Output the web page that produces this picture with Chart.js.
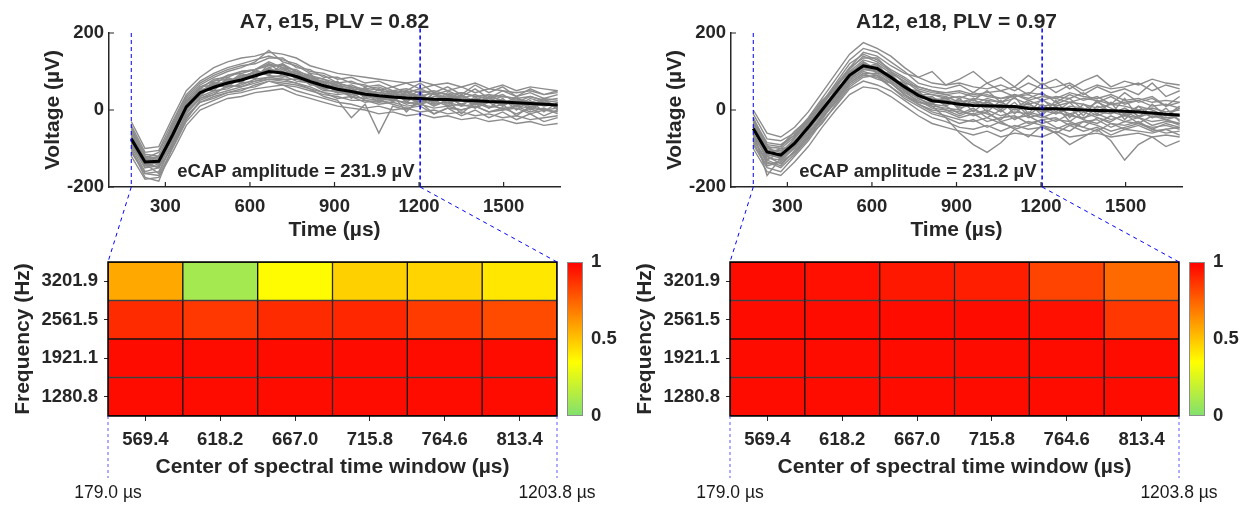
<!DOCTYPE html>
<html>
<head>
<meta charset="utf-8">
<script src="https://cdn.jsdelivr.net/npm/chart.js@4.4.1/dist/chart.umd.min.js"></script>
<style>
  html, body { margin: 0; padding: 0; background: #fff; }
  #wrap { position: relative; width: 1240px; height: 508px; overflow: hidden; }
  canvas { position: absolute; }
</style>
</head>
<body>
<div id="wrap">
  <canvas id="topA" width="618" height="250" style="left:0px;top:0px"></canvas>
  <canvas id="hmA" width="618" height="268" style="left:0px;top:240px"></canvas>
  <canvas id="topB" width="618" height="250" style="left:622px;top:0px"></canvas>
  <canvas id="hmB" width="618" height="268" style="left:622px;top:240px"></canvas>
  <canvas id="links" width="1240" height="508" style="left:0px;top:0px"></canvas>
</div>
<script>
var FONT = "'Liberation Sans', Arial, Helvetica, sans-serif";
var INK = '#262626';

// sample instants of the recorded traces (µs)
var timeUs = [179.0, 227.8, 276.6, 325.4, 374.2, 423.0, 471.8, 520.6,
  569.4, 618.2, 667.0, 715.8, 764.6, 813.4, 862.2, 911.0,
  959.8, 1008.6, 1057.4, 1106.2, 1155.0, 1203.8, 1252.6, 1301.4,
  1350.2, 1399.0, 1447.8, 1496.6, 1545.4, 1594.2, 1643.0, 1691.8];
var timeTicks = [300, 600, 900, 1200, 1500];
var voltTicks = [-200, 0, 200];
var windowEdges = [179.0, 1203.8];

var panelTitles = ['A7, e15, PLV = 0.82', 'A12, e18, PLV = 0.97'];
var ampLabels = ['eCAP amplitude = 231.9 µV', 'eCAP amplitude = 231.2 µV'];

// mean response (black) and single sweeps (grey), µV
var meanA7 = [-75, -135, -133, -65, 8, 45, 59, 70, 78, 89, 100, 96, 87, 74, 63, 54,
  48, 41, 37, 34, 31, 30, 28, 27, 25, 24, 22, 21, 19, 17, 15, 13];
var tracesA7 = [
  [-40, -110, -105, -30, 40, 75, 95, 110, 120, 130, 140, 130, 120, 100, 95, 80, 85, 70, 75, 60, 70, 55, 65, 50, 60, 45, 55, 50, 45, 50, 40, 45],
  [-110, -165, -170, -100, -30, 10, 25, 40, 45, 55, 60, 65, 50, 40, 30, 20, 15, 5, 10, 0, 5, -5, 0, -10, -5, -15, -10, -20, -15, -25, -20, -15],
  [-60, -120, -125, -50, 20, 55, 80, 85, 100, 105, 120, 110, 105, 85, 80, 60, 65, 50, 45, 40, 50, 35, 45, 40, 30, 40, 25, 35, 30, 20, 30, 25],
  [-90, -150, -145, -85, -10, 30, 45, 60, 65, 80, 85, 90, 75, 70, 50, 50, 35, 30, 25, 30, 15, 25, 15, 20, 10, 15, 10, 5, 10, 5, 0, 5],
  [-70, -130, -140, -60, 15, 50, 55, 80, 75, 95, 95, 105, 90, 80, 70, 45, 55, 35, 45, 25, 40, 20, 35, 30, 15, 30, 20, 25, 10, 20, 10, 15],
  [-80, -145, -125, -75, 5, 40, 70, 65, 90, 85, 110, 90, 95, 65, 65, 55, 40, 50, 30, 45, 25, 40, 20, 35, 30, 20, 30, 15, 25, 15, 20, 5],
  [-50, -115, -120, -45, 30, 65, 85, 100, 110, 125, 155, 125, 115, 95, 90, 70, 75, 60, 65, 50, 55, 45, 50, 40, 45, 35, 40, 35, 30, 35, 25, 30],
  [-95, -160, -150, -95, -20, 20, 30, 45, 50, 65, 75, 70, 65, 55, 35, 25, -20, 15, -60, 10, 0, 20, -10, 5, 0, 10, -5, 0, 5, -10, 0, -5],
  [-65, -125, -135, -55, 10, 45, 60, 75, 85, 90, 100, 100, 85, 75, 60, 60, 45, 40, 35, 35, 30, 30, 25, 25, 25, 20, 20, 20, 15, 15, 15, 10],
  [-85, -140, -150, -70, 0, 35, 50, 55, 70, 75, 85, 80, 80, 70, 55, 45, 50, 35, 30, 30, 35, 25, 30, 20, 25, 15, 20, 15, 20, 10, 15, 10],
  [-55, -125, -110, -40, 25, 60, 75, 90, 95, 105, 115, 115, 100, 90, 80, 70, 60, 55, 60, 45, 50, 70, 45, 60, 40, 65, 45, 60, 35, 55, 40, 50],
  [-100, -175, -185, -95, -25, 25, 40, 50, 60, 70, 80, 75, 70, 55, 45, 30, 35, 20, 25, 15, 5, 10, -10, 5, -15, 0, -20, -5, -25, -10, -30, -20],
  [-30, -100, -95, -20, 50, 85, 110, 125, 135, 140, 150, 145, 135, 115, 105, 95, 90, 85, 80, 75, 70, 75, 65, 70, 60, 70, 55, 65, 50, 60, 55, 50],
  [-120, -180, -175, -110, -40, 0, 15, 30, 35, 45, 50, 55, 40, 30, 20, 10, 5, 0, -10, -5, -15, -10, -20, -15, -25, -20, -30, -25, -35, -30, -40, -35],
  [-75, -140, -120, -70, 10, 40, 65, 60, 85, 100, 95, 110, 80, 85, 60, 65, 40, 55, 30, 50, 20, 45, 15, 40, 10, 35, 5, 30, 0, 25, -5, 20],
  [-60, -125, -145, -55, 0, 55, 50, 85, 70, 105, 90, 120, 80, 95, 55, 75, 30, 60, 25, 45, 35, 15, 45, 10, 40, 5, 35, 10, 30, 0, 25, 5],
  [-85, -150, -130, -80, 15, 35, 70, 70, 95, 80, 120, 95, 100, 70, 75, 50, 60, 30, 55, 20, 50, 10, 45, 15, 40, 20, 30, 10, 35, 5, 30, 0],
  [-45, -120, -130, -35, 35, 70, 90, 105, 115, 120, 135, 135, 110, 105, 85, 85, 70, 65, 50, 60, 45, 55, 40, 50, 35, 55, 30, 50, 35, 45, 30, 40],
  [-105, -165, -160, -90, -15, 20, 35, 45, 55, 60, 75, 65, 60, 50, 40, 35, 25, 25, 15, 20, 10, 15, 5, 10, 0, 10, -5, 5, -10, 5, -15, 0],
  [-70, -135, -150, -60, 5, 45, 60, 75, 85, 100, 90, 85, 95, 75, 55, 60, 35, 45, 20, 40, -5, 30, 10, 25, -10, 20, 5, 15, -15, 10, 0, -5],
  [-80, -125, -140, -75, 20, 50, 65, 70, 90, 95, 105, 100, 85, 90, 70, 45, 50, 45, 40, 25, 45, 35, 20, 45, 30, 15, 35, 25, 10, 30, 20, 5],
  [-55, -130, -120, -50, 25, 45, 75, 80, 80, 90, 110, 120, 100, 80, 75, 65, 55, 50, 55, 40, 35, 50, 40, 30, 45, 35, 30, 40, 20, 35, 25, 20],
  [-90, -140, -165, -85, -5, 30, 40, 65, 60, 75, 80, 80, 70, 60, 45, 40, 45, 25, 20, 25, 20, 15, 25, 10, 15, 5, 20, 0, 10, -5, 5, -10],
  [-65, -145, -135, -55, 10, 60, 65, 90, 100, 105, 125, 110, 95, 85, 70, 70, 60, 50, 45, 50, 40, 35, 45, 30, 35, 25, 40, 20, 30, 15, 25, 10]
];

var meanA12 = [-48, -109, -117, -87, -45, 0, 45, 90, 115, 108, 85, 60, 38, 24, 20, 15,
  12, 11, 10, 9, 4, 3, 3, 2, 0, -1, -2, -3, -5, -8, -11, -13];
var tracesA12 = [
  [-10, -75, -80, -60, -20, 30, 80, 130, 160, 150, 125, 100, 70, 60, 55, 65, 45, 70, 50, 60, 40, 70, 45, 65, 40, 60, 45, 55, 40, 70, 35, 50],
  [-90, -150, -160, -120, -80, -30, 10, 55, 75, 65, 50, 25, 0, -20, -30, -45, -50, -40, -55, -40, -50, -45, -60, -40, -55, -45, -65, -50, -55, -60, -50, -65],
  [-40, -100, -110, -75, -35, 15, 60, 100, 130, 120, 95, 75, 50, 40, 35, 20, 30, 25, 20, 30, 15, 25, 10, 20, 15, 5, 15, 10, 0, 5, -5, 0],
  [-60, -125, -130, -100, -60, -15, 30, 75, 100, 90, 70, 45, 25, 5, 0, -5, -10, 0, -15, -5, -10, -20, -5, -15, -20, -10, -25, -15, -20, -30, -25, -35],
  [-30, -95, -100, -70, -30, 10, 60, 105, 140, 125, 100, 80, 55, 45, 40, 30, 45, 35, 30, 40, 25, 35, 30, 20, 30, 25, 15, 20, 25, 10, 15, 5],
  [-70, -140, -135, -95, -55, -5, 35, 80, 105, 100, 75, 50, 30, 15, 10, -10, 5, -20, 0, -25, -5, -15, -30, -10, -25, -35, -15, -30, -20, -40, -30, -35],
  [-55, -170, -125, -90, -50, -10, 40, 85, 110, 100, 80, 55, 30, 10, -20, -60, -90, -110, -85, -50, -70, -40, -60, -90, -70, -50, -80, -130, -90, -70, -95, -80],
  [-20, -90, -95, -55, -25, 20, 65, 110, 150, 140, 115, 95, 85, 100, 65, 80, 100, 70, 85, 60, 90, 65, 80, 55, 75, 90, 60, 75, 65, 80, 70, 65],
  [-50, -110, -120, -90, -40, 5, 50, 95, 120, 110, 90, 60, 40, 30, 25, 10, 20, 5, 15, 0, 10, -5, 5, -10, 0, -5, -10, 5, -15, -10, -20, -15],
  [-80, -130, -145, -105, -65, -20, 20, 65, 90, 85, 60, 35, 15, 0, -5, -20, -10, -30, -20, -15, -35, -25, -20, -40, -30, -25, -45, -30, -35, -45, -40, -50],
  [-25, -85, -90, -65, -25, 20, 70, 120, 145, 130, 105, 85, 60, 50, 45, 50, 40, 45, 50, 35, 45, 40, 30, 45, 35, 30, 40, 25, 30, 20, 25, 20],
  [-65, -120, -140, -110, -70, -25, 25, 70, 95, 95, 70, 40, 20, 10, 5, 0, -15, -5, -30, -20, -15, -35, -25, -30, -45, -20, -35, -40, -30, -50, -35, -45],
  [0, -60, -70, -45, -5, 45, 95, 145, 175, 160, 140, 110, 85, 70, 65, 70, 60, 55, 65, 50, 70, 55, 60, 70, 50, 65, 55, 60, 70, 50, 65, 55],
  [-100, -160, -170, -135, -95, -45, 0, 40, 60, 55, 35, 10, -15, -35, -45, -55, -65, -55, -70, -60, -65, -70, -55, -70, -65, -60, -70, -65, -60, -70, -65, -70],
  [-45, -115, -100, -95, -35, -5, 55, 85, 125, 100, 95, 55, 50, 15, 35, 0, 30, -5, 25, -10, 20, -15, 25, -20, 15, -10, 20, -25, 10, -20, 5, -30],
  [-35, -95, -125, -80, -50, 10, 40, 100, 110, 120, 80, 70, 30, 35, 10, 30, -5, 25, 0, 35, -10, 30, -5, 20, -15, 25, -10, 30, -20, 15, -15, 10],
  [-60, -130, -110, -100, -40, -10, 50, 80, 120, 95, 90, 50, 45, 20, 25, 20, 25, 15, -5, 20, -15, 15, -10, 5, -25, 10, -5, -15, 0, -20, -10, -25],
  [-20, -100, -95, -65, -25, 25, 55, 110, 135, 135, 100, 70, 60, 50, 40, 45, 35, 40, 30, 35, 40, 25, 35, 30, 45, 20, 35, 15, 25, 35, 10, 20],
  [-75, -135, -150, -115, -75, -20, 25, 70, 95, 80, 70, 40, 15, -5, -15, -25, -30, -20, -35, -45, -30, -40, -50, -35, -45, -55, -35, -50, -40, -55, -50, -45],
  [-50, -120, -115, -80, -45, 0, 50, 90, 110, 115, 80, 65, 35, 30, 15, 25, 10, 20, 5, 10, 15, 0, -10, 10, 5, -15, 0, -5, -20, -5, -25, -15],
  [-30, -105, -105, -85, -35, 5, 40, 95, 125, 105, 90, 55, 45, 25, 30, 5, 15, 30, 20, 5, 25, 10, 15, 30, 0, 20, 5, -10, 10, 0, -15, 5],
  [-85, -145, -135, -110, -70, -35, 15, 60, 85, 90, 60, 30, 10, -10, -20, -35, -25, -45, -30, -50, -40, -25, -45, -55, -30, -40, -55, -45, -35, -50, -60, -55],
  [-40, -90, -130, -70, -30, 15, 65, 95, 115, 105, 80, 65, 40, 40, 30, 35, 25, 50, 20, 40, 30, 45, 20, 40, 25, 35, 15, 45, 20, 30, 10, 35],
  [-65, -115, -125, -95, -60, -15, 35, 80, 105, 110, 75, 50, 20, 15, 0, -15, 0, -10, -25, 5, -20, -10, 10, -30, -5, -20, -30, -10, -35, -15, -25, -40]
];

// phase locking value per spectral window, rows listed top to bottom
var windowCenters = ['569.4', '618.2', '667.0', '715.8', '764.6', '813.4'];
var freqLabels = ['3201.9', '2561.5', '1921.1', '1280.8'];
var plvA7 = [
  [0.57, 0.10, 0.36, 0.47, 0.46, 0.41],
  [0.89, 0.86, 0.89, 0.90, 0.85, 0.81],
  [0.97, 0.97, 0.97, 0.97, 0.97, 0.97],
  [0.97, 0.97, 0.97, 0.97, 0.97, 0.97]
];
var plvA12 = [
  [0.97, 0.96, 0.94, 0.92, 0.83, 0.73],
  [0.97, 0.97, 0.97, 0.97, 0.96, 0.86],
  [0.97, 0.97, 0.97, 0.97, 0.97, 0.97],
  [0.97, 0.97, 0.97, 0.97, 0.97, 0.97]
];
var colorbarTicks = [0, 0.5, 1];

// green -> yellow -> red colour map
var cmapStops = [0, 0.35, 1];
var cmapColors = [[128, 224, 112], [255, 255, 0], [255, 0, 0]];

var tickFont = { family: FONT, size: 18.5, weight: 'bold' };
var labelFont = { family: FONT, size: 21, weight: 'bold' };
var noteAt = [763, -161];

function plvColor(v) {
  for (var i = 1; i < cmapStops.length; i++) {
    if (v <= cmapStops[i]) {
      var t = (v - cmapStops[i - 1]) / (cmapStops[i] - cmapStops[i - 1]);
      var a = cmapColors[i - 1], b = cmapColors[i];
      return 'rgb(' + Math.round(a[0] + (b[0] - a[0]) * t) + ',' +
        Math.round(a[1] + (b[1] - a[1]) * t) + ',' + Math.round(a[2] + (b[2] - a[2]) * t) + ')';
    }
  }
  return 'rgb(' + cmapColors[cmapColors.length - 1].join(',') + ')';
}

function toPoints(vals) {
  return vals.map(function (v, i) { return { x: timeUs[i], y: v }; });
}

// inward ticks, title and the amplitude note of the trace panels
var panelDecor = {
  id: 'panelDecor',
  afterDraw: function (chart, args, opts) {
    var ctx = chart.ctx, ca = chart.chartArea, xs = chart.scales.x, ys = chart.scales.y;
    ctx.save();
    ctx.strokeStyle = INK;
    ctx.lineWidth = 1.2;
    ctx.beginPath();
    xs.ticks.forEach(function (t) {
      var px = xs.getPixelForValue(t.value);
      ctx.moveTo(px, ca.bottom);
      ctx.lineTo(px, ca.bottom - 5);
    });
    ys.ticks.forEach(function (t) {
      var py = ys.getPixelForValue(t.value);
      ctx.moveTo(ca.left, py);
      ctx.lineTo(ca.left + 5, py);
    });
    ctx.stroke();
    ctx.fillStyle = INK;
    ctx.textAlign = 'center';
    ctx.textBaseline = 'middle';
    ctx.font = 'bold 21px ' + FONT;
    ctx.fillText(opts.title, (ca.left + ca.right) / 2, ca.top - 11);
    ctx.font = 'bold 18.5px ' + FONT;
    ctx.fillText(opts.note, xs.getPixelForValue(noteAt[0]), ys.getPixelForValue(noteAt[1]));
    ctx.restore();
  }
};

// colour bar and frame of the heat maps
var colorbar = {
  id: 'colorbar',
  afterDraw: function (chart) {
    var ctx = chart.ctx, ca = chart.chartArea;
    var x0 = ca.right + 10, w = 16, h = ca.bottom - ca.top;
    ctx.save();
    var g = ctx.createLinearGradient(0, ca.bottom, 0, ca.top);
    cmapStops.forEach(function (s, i) { g.addColorStop(s, 'rgb(' + cmapColors[i].join(',') + ')'); });
    ctx.fillStyle = g;
    ctx.fillRect(x0, ca.top, w, h);
    ctx.strokeStyle = '#8c8c8c';
    ctx.lineWidth = 1;
    ctx.strokeRect(x0 + 0.5, ca.top + 0.5, w - 1, h - 1);
    ctx.fillStyle = INK;
    ctx.font = 'bold 18.5px ' + FONT;
    ctx.textAlign = 'left';
    ctx.textBaseline = 'middle';
    colorbarTicks.forEach(function (v) {
      ctx.fillText(String(v), x0 + w + 8, ca.bottom - v * h);
    });
    ctx.strokeStyle = '#000';
    ctx.lineWidth = 1.5;
    ctx.strokeRect(ca.left, ca.top, ca.right - ca.left, h);
    ctx.restore();
  }
};

function makeTraces(id, mean, traces, idx) {
  var datasets = [
    { data: [{ x: windowEdges[0], y: 200 }, { x: windowEdges[0], y: -200 }],
      borderColor: '#0000ff', borderWidth: 1, borderDash: [4, 3], order: 0, clip: false },
    { data: [{ x: windowEdges[1], y: 212 }, { x: windowEdges[1], y: -200 }],
      borderColor: '#0000ff', borderWidth: 1.5, borderDash: [4, 3], order: 0, clip: false },
    { data: toPoints(mean), borderColor: '#000000', borderWidth: 3, order: 1 }
  ];
  traces.forEach(function (t) {
    datasets.push({ data: toPoints(t), borderColor: 'rgb(140,140,140)', borderWidth: 1.4, order: 2 });
  });
  return new Chart(document.getElementById(id), {
    type: 'line',
    data: { datasets: datasets },
    plugins: [panelDecor],
    options: {
      responsive: false,
      animation: false,
      devicePixelRatio: 1,
      layout: { padding: { left: 37, right: 58, top: 33, bottom: 3 } },
      elements: { point: { radius: 0 }, line: { tension: 0 } },
      plugins: {
        legend: { display: false },
        tooltip: { enabled: false },
        panelDecor: { title: panelTitles[idx], note: ampLabels[idx] }
      },
      scales: {
        x: {
          type: 'linear', min: 100, max: 1700,
          afterBuildTicks: function (s) { s.ticks = timeTicks.map(function (v) { return { value: v }; }); },
          afterFit: function (s) { s.height = 60; },
          grid: { drawOnChartArea: false, drawTicks: false },
          border: { color: INK, width: 1.5 },
          ticks: {
            color: INK, font: tickFont, padding: 9, maxRotation: 0, autoSkip: false,
            callback: function (v) { return String(v); }
          },
          title: { display: true, text: 'Time (µs)', color: INK, font: labelFont, padding: { top: 0, bottom: 4 } }
        },
        y: {
          type: 'linear', min: -200, max: 200,
          afterBuildTicks: function (s) { s.ticks = voltTicks.map(function (v) { return { value: v }; }); },
          afterFit: function (s) { s.width = 72; },
          grid: { drawOnChartArea: false, drawTicks: false },
          border: { color: INK, width: 1.5 },
          ticks: {
            color: INK, font: tickFont, padding: 5, autoSkip: false,
            callback: function (v) { return String(v); }
          },
          title: { display: true, text: 'Voltage (µV)', color: INK, font: labelFont, padding: { top: 4, bottom: 0 } }
        }
      }
    }
  });
}

function makeHeatmap(id, plv) {
  var n = freqLabels.length;
  var datasets = [];
  for (var k = 0; k < n; k++) {
    var row = plv[n - 1 - k];
    datasets.push({
      label: freqLabels[n - 1 - k],
      data: row.map(function () { return 1; }),
      backgroundColor: row.map(plvColor),
      borderColor: '#141414',
      borderWidth: 1,
      borderSkipped: false,
      categoryPercentage: 1,
      barPercentage: 1
    });
  }
  return new Chart(document.getElementById(id), {
    type: 'bar',
    data: { labels: windowCenters, datasets: datasets },
    plugins: [colorbar],
    options: {
      responsive: false,
      animation: false,
      devicePixelRatio: 1,
      layout: { padding: { left: 7, right: 61, top: 22, bottom: 24 } },
      plugins: { legend: { display: false }, tooltip: { enabled: false } },
      scales: {
        x: {
          stacked: true,
          afterFit: function (s) { s.height = 68; },
          grid: { offset: false, drawOnChartArea: false, tickLength: 5, color: INK, lineWidth: 1 },
          border: { display: false },
          ticks: { color: INK, font: tickFont, padding: 8, maxRotation: 0, autoSkip: false },
          title: { display: true, text: 'Center of spectral time window (µs)', color: INK, font: labelFont, padding: { top: 0, bottom: 4 } }
        },
        y: {
          stacked: true, min: 0, max: n,
          afterBuildTicks: function (s) {
            s.ticks = freqLabels.map(function (f, r) { return { value: r + 0.5 }; });
          },
          afterFit: function (s) { s.width = 101; },
          grid: { drawOnChartArea: false, tickLength: 4, color: INK, lineWidth: 1 },
          border: { display: false },
          ticks: {
            color: INK, font: tickFont, padding: 6, autoSkip: false,
            callback: function (v) { return freqLabels[n - 1 - Math.floor(v)]; }
          },
          title: { display: true, text: 'Frequency (Hz)', color: INK, font: labelFont, padding: { top: 4, bottom: 0 } }
        }
      }
    }
  });
}

var topA = makeTraces('topA', meanA7, tracesA7, 0);
var hmA = makeHeatmap('hmA', plvA7);
var topB = makeTraces('topB', meanA12, tracesA12, 1);
var hmB = makeHeatmap('hmB', plvA12);

// dashed guides joining the analysed window to the heat map below
function drawLinks(top, hm, offX, offY) {
  var ctx = document.getElementById('links').getContext('2d');
  var xs = top.scales.x, base = top.chartArea.bottom;
  var ha = hm.chartArea;
  var ends = [offX + ha.left, offX + ha.right];
  var hmTop = offY + ha.top, hmBot = offY + ha.bottom;
  ctx.save();
  ctx.strokeStyle = '#0000ff';
  ctx.lineWidth = 1;
  ctx.setLineDash([4, 4]);
  windowEdges.forEach(function (t, i) {
    ctx.beginPath();
    ctx.moveTo(offX + xs.getPixelForValue(t), base);
    ctx.lineTo(ends[i], hmTop);
    ctx.stroke();
  });
  ctx.strokeStyle = 'rgba(50,50,255,0.8)';
  ctx.setLineDash([3, 3]);
  ends.forEach(function (x) {
    ctx.beginPath();
    ctx.moveTo(x, hmBot);
    ctx.lineTo(x, hmBot + 62);
    ctx.stroke();
  });
  ctx.setLineDash([]);
  ctx.fillStyle = '#1a1a1a';
  ctx.font = '17.5px ' + FONT;
  ctx.textAlign = 'center';
  ctx.textBaseline = 'middle';
  windowEdges.forEach(function (t, i) {
    ctx.fillText(t.toFixed(1) + ' µs', ends[i], hmBot + 77);
  });
  ctx.restore();
}

drawLinks(topA, hmA, 0, 240);
drawLinks(topB, hmB, 622, 240);
</script>
</body>
</html>
